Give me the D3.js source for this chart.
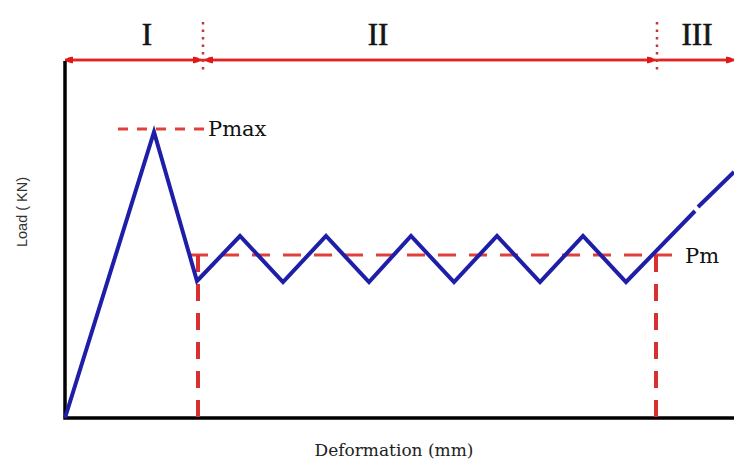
<!DOCTYPE html>
<html>
<head>
<meta charset="utf-8">
<script src="https://cdn.jsdelivr.net/npm/d3@7"></script>
<style>
  body { margin: 0; background: #fff; }
  svg { display: block; }
</style>
</head>
<body>
<svg id="chart" width="734" height="465"></svg>
<script>
// load-deformation curve, arbitrary units
const curveA = [
  [0, 0], [8.9, 28.6], [13.2, 13.7], [17.5, 18.2], [21.8, 13.6], [26.1, 18.2],
  [30.4, 13.6], [34.6, 18.2], [38.9, 13.6], [43.2, 18.2], [47.5, 13.6],
  [51.8, 18.2], [56.1, 13.6], [63.0, 20.7]
]
const curveB = [[63.3, 21.1], [66.9, 24.6]]
const pmax = 28.9
const pmaxRange = [5.3, 14.0]
const pm = 16.3
const pmRange = [12.5, 60.7]
const bounds = [13.3, 59.1]
const stageBounds = [0, 13.8, 59.2, 66.9]
const stageLabels = ['I', 'II', 'III']
const stageLabelX = [8.2, 31.3, 63.2]

const svg = d3.select('#chart')
const x = d3.scaleLinear().domain([0, 66.9]).range([65, 734])
const y = d3.scaleLinear().domain([0, 36]).range([418, 58])

const serif = "'DejaVu Serif', serif"
const times = "'Liberation Serif', 'Times New Roman', serif"

const defs = svg.append('defs')
defs.append('marker')
    .attr('id', 'arr')
    .attr('viewBox', '0 0 10 10')
    .attr('refX', 10).attr('refY', 5)
    .attr('markerWidth', 26).attr('markerHeight', 8)
    .attr('markerUnits', 'userSpaceOnUse')
    .attr('orient', 'auto-start-reverse')
    .append('path')
    .attr('d', 'M0,1 Q5,0 10,5 Q5,10 0,9 Z')
    .attr('fill', '#e01818')

// top stage line
const yTop = 60
svg.append('line')
    .attr('x1', x(0)).attr('x2', x(66.9))
    .attr('y1', yTop).attr('y2', yTop)
    .attr('stroke', '#e02424').attr('stroke-width', 2.5)
for (let i = 0; i < stageLabels.length; i++) {
    const a = x(stageBounds[i]) + (i === 0 ? 0 : 2)
    const b = x(stageBounds[i + 1]) - (i === 2 ? 0 : 2)
    svg.append('path')
        .attr('d', `M${a},${yTop}L${b},${yTop}`)
        .attr('stroke', '#e02424').attr('stroke-width', 2.5).attr('fill', 'none')
        .attr('marker-start', i === 2 ? null : 'url(#arr)')
        .attr('marker-end', 'url(#arr)')
    svg.append('text')
        .attr('x', x(stageLabelX[i])).attr('y', 45)
        .attr('text-anchor', 'middle')
        .attr('font-family', times)
        .attr('font-size', 31)
        .attr('fill', '#151515')
        .attr('stroke', '#151515').attr('stroke-width', 0.6)
        .text(stageLabels[i])
}
// dotted separators
stageBounds.slice(1, 3).forEach(v => {
    svg.append('line')
        .attr('x1', x(v)).attr('x2', x(v))
        .attr('y1', 22).attr('y2', 72)
        .attr('stroke', '#c03838').attr('stroke-width', 2.5)
        .attr('stroke-dasharray', '2.5,5')
})

// axes
svg.append('path')
    .attr('d', `M${x(0)},${y(35.7)}L${x(0)},${y(0)}L${x(66.9)},${y(0)}`)
    .attr('fill', 'none').attr('stroke', '#000').attr('stroke-width', 3.5)

// reference lines
const red = '#e0403c'
svg.append('line')
    .attr('x1', x(pmaxRange[0])).attr('x2', x(pmaxRange[1]))
    .attr('y1', y(pmax)).attr('y2', y(pmax))
    .attr('stroke', red).attr('stroke-width', 3).attr('stroke-dasharray', '10,9')
svg.append('line')
    .attr('x1', x(pmRange[0])).attr('x2', x(pmRange[1]))
    .attr('y1', y(pm)).attr('y2', y(pm))
    .attr('stroke', red).attr('stroke-width', 3).attr('stroke-dasharray', '18,13')
bounds.forEach(v => {
    svg.append('line')
        .attr('x1', x(v)).attr('x2', x(v))
        .attr('y1', y(pm)).attr('y2', y(0))
        .attr('stroke', '#d83030').attr('stroke-width', 4).attr('stroke-dasharray', '17,12')
})

// curve
const line = d3.line().x(d => x(d[0])).y(d => y(d[1]))
;[curveA, curveB].forEach(c => {
    svg.append('path')
        .attr('d', line(c))
        .attr('fill', 'none')
        .attr('stroke', '#1e1ea8')
        .attr('stroke-width', 4)
        .attr('stroke-linejoin', 'miter')
})

// labels
svg.append('text')
    .attr('x', x(pmaxRange[1]) + 3).attr('y', y(pmax) + 7)
    .attr('font-family', serif).attr('font-size', 21)
    .attr('fill', '#111').text('Pmax')
svg.append('text')
    .attr('x', x(pmRange[1]) + 13).attr('y', y(pm) + 8)
    .attr('font-family', serif).attr('font-size', 21)
    .attr('fill', '#111').text('Pm')
svg.append('text')
    .attr('x', 394).attr('y', 456)
    .attr('text-anchor', 'middle')
    .attr('font-family', serif).attr('font-size', 17)
    .attr('fill', '#222').text('Deformation (mm)')
svg.append('text')
    .attr('transform', 'translate(27,212) rotate(-90)')
    .attr('text-anchor', 'middle')
    .attr('font-family', "'Liberation Sans', Arial, sans-serif").attr('font-size', 14.5)
    .attr('fill', '#333').text('Load ( KN)')
</script>
</body>
</html>
